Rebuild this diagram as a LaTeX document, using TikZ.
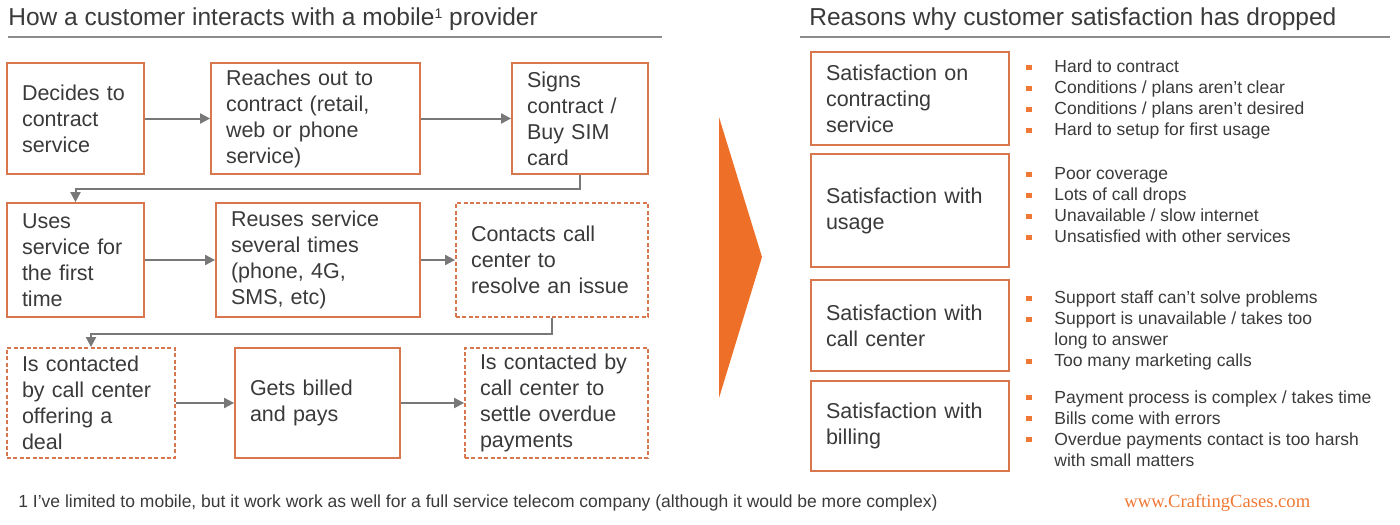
\documentclass[tikz,border=0pt]{standalone}
\usepackage{fontspec}
\setmainfont{Liberation Sans}
\newfontfamily\logofont{Liberation Serif}
\usetikzlibrary{arrows.meta}
\definecolor{boxorange}{RGB}{216,118,78}
\definecolor{arroworange}{RGB}{238,112,40}
\definecolor{bulorange}{RGB}{238,120,52}
\definecolor{txt}{RGB}{58,58,58}
\definecolor{conncol}{RGB}{120,120,120}
\definecolor{rulecol}{RGB}{140,140,140}
\newcommand{\bul}{\textcolor{bulorange}{\rule[1.4pt]{2.6pt}{2.6pt}}}
\begin{document}
\begin{tikzpicture}[x=0.5pt,y=-0.5pt,
  boxtext/.style={font=\fontsize{10.75}{13}\selectfont, text=txt},
  stepbox/.style={draw=boxorange, line width=0.9pt, boxtext, align=left, inner xsep=7.5pt, inner ysep=0pt},
  dashbox/.style={stepbox, dash pattern=on 2pt off 1.2pt},
  conn/.style={draw=conncol, line width=1pt, -{Triangle[length=5pt,width=5pt]}},
  title/.style={anchor=base west, font=\fontsize{12.25}{14}\selectfont, text=txt, inner sep=0pt},
  titlerule/.style={draw=rulecol, line width=0.9pt},
  bullets/.style={anchor=west, inner sep=0pt, text=txt, font=\fontsize{8.75}{10.5}\selectfont},
]
\useasboundingbox (0,0) rectangle (1400,524);

% titles
\node[title] (t1) at (8,26) {How a customer interacts with a mobile{\fontsize{7}{8}\selectfont\raisebox{3.6pt}{1}} provider};
\node[title] (t2) at (809,26) {Reasons why customer satisfaction has dropped};
\draw[titlerule] (8,37) -- (662,37);
\draw[titlerule] (800,37) -- (1390,37);

% row 1
\node[stepbox, minimum width=68.5pt, minimum height=55.5pt, text width=53.5pt] (A) at (75.5,118.5) {Decides to\\contract\\service};
\node[stepbox, minimum width=104.5pt, minimum height=55.5pt, text width=89.5pt] (B) at (315.5,118.5) {Reaches out to\\contract (retail,\\web or phone\\service)};
\node[stepbox, minimum width=68pt, minimum height=55.5pt, text width=53pt] (C) at (580,118.5) {Signs\\contract /\\Buy SIM\\card};

% row 2
\node[stepbox, minimum width=68.5pt, minimum height=57pt, text width=53.5pt] (D) at (75.5,260) {Uses\\service for\\the first\\time};
\node[stepbox, minimum width=102pt, minimum height=57pt, text width=87pt] (E) at (318,260) {Reuses service\\several times\\(phone, 4G,\\SMS, etc)};
\node[dashbox, minimum width=96pt, minimum height=57pt, text width=81pt] (F) at (552,260) {Contacts call\\center to\\resolve an issue};

% row 3
\node[dashbox, minimum width=84pt, minimum height=55pt, text width=69pt] (G) at (91,403) {Is contacted\\by call center\\offering a\\deal};
\node[stepbox, minimum width=82.5pt, minimum height=55pt, text width=67.5pt] (H) at (317.5,403) {Gets billed\\and pays};
\node[dashbox, minimum width=91.5pt, minimum height=55pt, text width=76.5pt] (I) at (556.5,403) {Is contacted by\\call center to\\settle overdue\\payments};

% connectors
\draw[conn] (A) -- (B);
\draw[conn] (B) -- (C);
\draw[conn] (C.south) -- ++(0,14) -| (D.north);
\draw[conn] (D) -- (E);
\draw[conn] (E) -- (F);
\draw[conn] (F.south) -- ++(0,16) -| (G.north);
\draw[conn] (G) -- (H);
\draw[conn] (H) -- (I);

% big arrow
\fill[arroworange] (719,117) -- (762,257) -- (719,398) -- cycle;

% right boxes
\node[stepbox, minimum width=99pt, minimum height=46.5pt, text width=84pt] (R1) at (910,98.5) {Satisfaction on\\contracting\\service};
\node[stepbox, minimum width=99pt, minimum height=56.5pt, text width=84pt] (R2) at (910,210.5) {Satisfaction with\\usage};
\node[stepbox, minimum width=99pt, minimum height=45.5pt, text width=84pt] (R3) at (910,325.5) {Satisfaction with\\call center};
\node[stepbox, minimum width=99pt, minimum height=45pt, text width=84pt] (R4) at (910,426) {Satisfaction with\\billing};

% bullet lists
\node[bullets] (L1) at (1026,100) {\begin{tabular}{@{}p{14pt}@{}l@{}}
\bul & Hard to contract\\
\bul & Conditions / plans aren’t clear\\
\bul & Conditions / plans aren’t desired\\
\bul & Hard to setup for first usage
\end{tabular}};
\node[bullets] (L2) at (1026,207) {\begin{tabular}{@{}p{14pt}@{}l@{}}
\bul & Poor coverage\\
\bul & Lots of call drops\\
\bul & Unavailable / slow internet\\
\bul & Unsatisfied with other services
\end{tabular}};
\node[bullets] (L3) at (1026,331) {\begin{tabular}{@{}p{14pt}@{}l@{}}
\bul & Support staff can’t solve problems\\
\bul & Support is unavailable / takes too\\
 & long to answer\\
\bul & Too many marketing calls
\end{tabular}};
\node[bullets] (L4) at (1026,430.5) {\begin{tabular}{@{}p{14pt}@{}l@{}}
\bul & Payment process is complex / takes time\\
\bul & Bills come with errors\\
\bul & Overdue payments contact is too harsh\\
 & with small matters
\end{tabular}};

% footnote and logo
\node[anchor=base west, inner sep=0pt, text=txt, font=\fontsize{8.75}{10.5}\selectfont] (fn) at (18,507) {1 I’ve limited to mobile, but it work work as well for a full service telecom company (although it would be more complex)};
\node[anchor=base west, inner sep=0pt, text=bulorange, font=\logofont\fontsize{9.3}{11}\selectfont] (logo) at (1124,507) {www.CraftingCases.com};
\end{tikzpicture}
\end{document}
